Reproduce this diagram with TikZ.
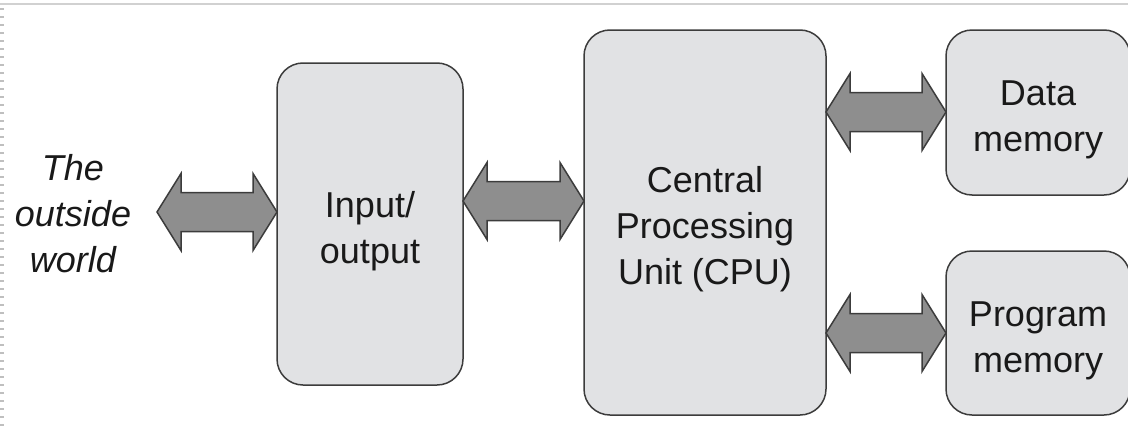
\documentclass[tikz,border=0pt]{standalone}
\usepackage{fontspec}
\setmainfont{Liberation Sans}
\usetikzlibrary{calc}

\definecolor{boxfill}{HTML}{E1E2E4}
\definecolor{busfill}{HTML}{8E8E8E}
\definecolor{edge}{HTML}{3C3C3C}

% extra room above the first line of a block
\newcommand{\topgap}{\rule{0pt}{20pt}}

% two-headed bus arrow between two named points (same height)
\newcommand{\busarrow}[2]{%
  \draw[bus] let \p1=(#1), \p2=(#2) in
    (\x1,\y1) -- ++(24,-38.5) -- ++(0,19) -- ($(\x2,\y1)+(-24,-19.5)$)
    -- ++(0,-19) -- (\x2,\y1) -- ++(-24,38.5) -- ++(0,-19)
    -- ($(\x1,\y1)+(24,19.5)$) -- ++(0,19) -- cycle;}

\begin{document}
\begin{tikzpicture}[x=0.5pt,y=-0.5pt]
    \tikzset{every node/.style={font=\fontsize{18}{23}\selectfont, text=black!90, align=center}}
    \tikzset{block/.style={draw=edge, line width=0.75pt, fill=boxfill, rounded corners=13pt,
        inner sep=0pt, outer sep=0pt}}
    \tikzset{bus/.style={draw=edge, line width=0.75pt, fill=busfill, line join=miter}}

      \useasboundingbox (0,0) rectangle (1128,428);
      \clip (0,0) rectangle (1128,428);

      % page edges of the scan
      \draw[black!18, line width=1pt] (0,4) -- (1128,4);
      \draw[black!25, line width=2pt, dash pattern=on 1pt off 3pt] (2,8) -- (2,428);

      % blocks
      \node[font=\fontsize{18}{23}\selectfont\itshape] (world) at (73,214) {The\\outside\\world};
      \node[block, minimum width=93pt, minimum height=161pt] (io) at (370,224)
          {\topgap Input/\\output};
      \node[block, minimum width=121pt, minimum height=192.5pt] (cpu) at (705,222.5)
          {\topgap Central\\Processing\\Unit (CPU)};
      \node[block, minimum width=92pt, minimum height=82.5pt] (data) at (1038,112.5)
          {\topgap Data\\memory};
      \node[block, minimum width=92pt, minimum height=82pt] (prog) at (1038,333)
          {\topgap Program\\memory};

      % arrow ends
      \coordinate (w1) at (157,212);
      \coordinate (io1) at (io.west |- 0,212);
      \coordinate (io2) at (io.east |- 0,201);
      \coordinate (cpu1) at (cpu.west |- 0,201);
      \coordinate (cpu2) at (cpu.east |- 0,112);
      \coordinate (cpu3) at (cpu.east |- 0,333);
      \coordinate (data1) at (data.west |- 0,112);
      \coordinate (prog1) at (prog.west |- 0,333);

      % buses
      \busarrow{w1}{io1}
      \busarrow{io2}{cpu1}
      \busarrow{cpu2}{data1}
      \busarrow{cpu3}{prog1}

    \end{tikzpicture}
\end{document}
